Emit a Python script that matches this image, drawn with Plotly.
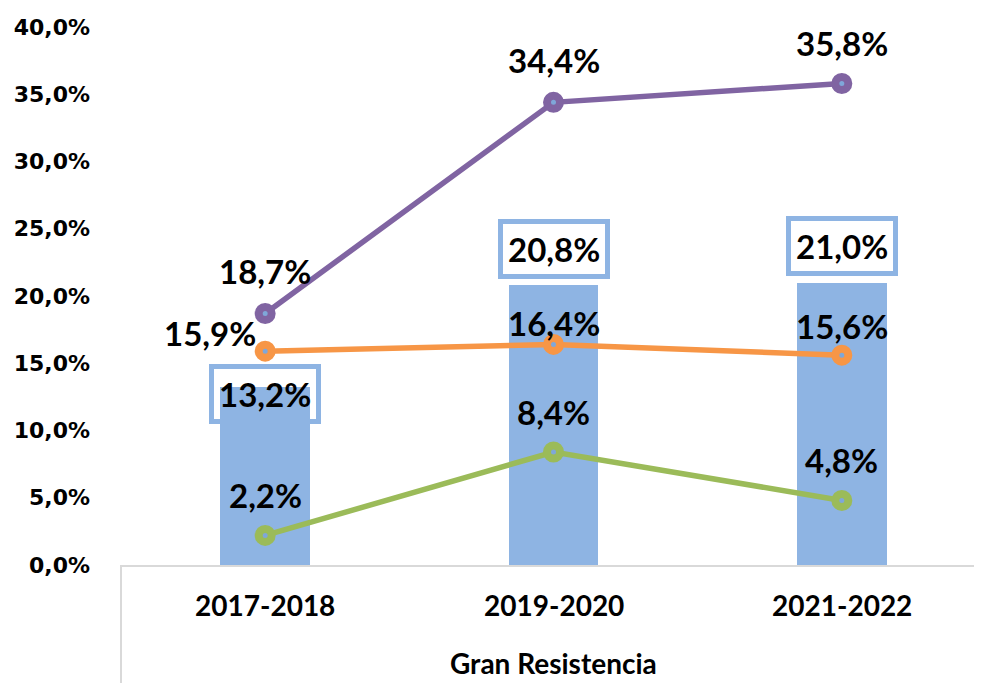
import plotly.graph_objects as go

categories = ["2017-2018", "2019-2020", "2021-2022"]
group_label = "Gran Resistencia"
bar_values = [13.2, 20.8, 21.0]
purple_values = [18.7, 34.4, 35.8]
orange_values = [15.9, 16.4, 15.6]
green_values = [2.2, 8.4, 4.8]
y_ticks = [0, 5, 10, 15, 20, 25, 30, 35, 40]

def pct(v):
    return f"{v:.1f}".replace(".", ",") + "%"

x = list(range(len(categories)))
LABEL_FONT = dict(family="Lato", size=33, color="black")

fig = go.Figure()
fig.add_trace(go.Bar(x=x, y=bar_values, width=0.31, marker=dict(color="#8EB4E3", line=dict(width=0)),
                     showlegend=False, hoverinfo="skip"))

series = [
    (purple_values, "#8064A2"),
    (orange_values, "#F79646"),
    (green_values, "#9BBB59"),
]
for vals, col in series:
    fig.add_trace(go.Scatter(x=x, y=vals, mode="lines+markers",
                             line=dict(color=col, width=5.5),
                             marker=dict(symbol="circle", size=13, color="#7FA7D9",
                                         line=dict(color=col, width=8)),
                             cliponaxis=False, showlegend=False, hoverinfo="skip"))

annotations = []
# bar labels in boxes
bar_shifts = [-7, 36, 37]
for i, v in enumerate(bar_values):
    annotations.append(dict(x=i, y=v, text=f"<b>{pct(v)}</b>", showarrow=False, font=LABEL_FONT,
                            yshift=bar_shifts[i], bgcolor="rgba(0,0,0,0)", bordercolor="#8EB4E3",
                            borderwidth=5, borderpad=5, yanchor="middle"))
# line labels
line_offsets = [
    (purple_values, [(0, 42), (0, 42), (0, 40)]),
    (orange_values, [(-55, 18), (0, 21), (0, 29)]),
    (green_values, [(0, 40), (0, 40), (0, 40)]),
]
for vals, offs in line_offsets:
    for i, v in enumerate(vals):
        annotations.append(dict(x=i, y=v, text=f"<b>{pct(v)}</b>", showarrow=False, font=LABEL_FONT,
                                xshift=offs[i][0], yshift=offs[i][1], yanchor="middle"))
# category labels
for i, c in enumerate(categories):
    annotations.append(dict(x=i, y=0, text=f"<b>{c}</b>", showarrow=False,
                            font=dict(family="Lato", size=28, color="black"),
                            yshift=-40, yanchor="middle"))
annotations.append(dict(x=1, y=0, text=f"<b>{group_label}</b>", showarrow=False,
                        font=dict(family="Lato", size=28, color="black"),
                        yshift=-98, yanchor="middle"))

fig.update_layout(
    width=974, height=675,
    margin=dict(l=113, r=0, t=19, b=118),
    plot_bgcolor="white", paper_bgcolor="white",
    bargap=0,
    annotations=annotations,
    shapes=[dict(type="line", xref="paper", yref="paper", x0=0, x1=0, y0=0, y1=-118/538,
                 line=dict(color="#D9D9D9", width=2))],
)
fig.update_xaxes(range=[-0.5, 2.5 - 4/288.5], showticklabels=False, showgrid=False, zeroline=False,
                 showline=True, linecolor="#D9D9D9", linewidth=2, ticks="")
fig.update_yaxes(range=[0, 40], tickvals=y_ticks, ticktext=[f"<b>{pct(t)}</b>" for t in y_ticks],
                 tickfont=dict(family="DejaVu Sans", size=22, color="black"),
                 showgrid=False, zeroline=False, showline=False, ticks="", ticklabelstandoff=30)

fig.write_html("out.html")
